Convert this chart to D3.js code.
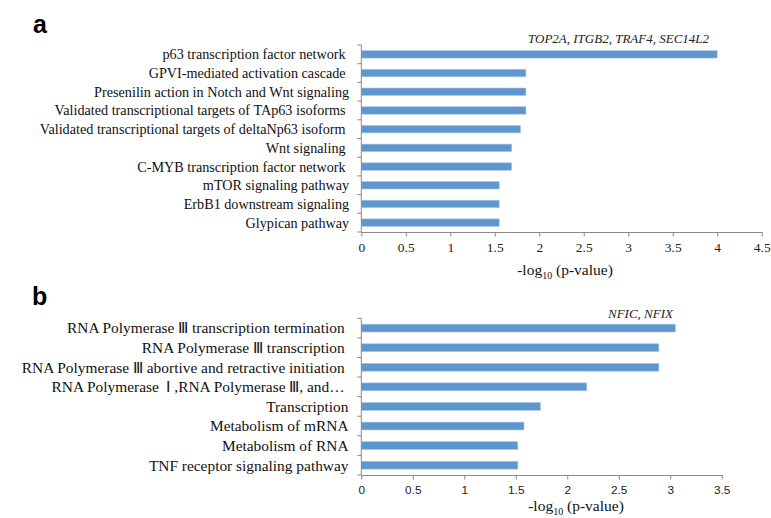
<!DOCTYPE html>
<html>
<head>
<meta charset="utf-8">
<script src="https://cdn.jsdelivr.net/npm/d3@7"></script>
<style>
  html, body { margin: 0; padding: 0; background: #fff; }
  svg { display: block; }
  .lbl { white-space: pre; }
</style>
</head>
<body>
<svg id="chart" width="771" height="518"></svg>
<script>
// ---- Data ----
const categoriesA = [
  "p63 transcription factor network ",
  "GPVI-mediated activation cascade ",
  "Presenilin action in Notch and Wnt signaling",
  "Validated transcriptional targets of TAp63 isoforms ",
  "Validated transcriptional targets of deltaNp63 isoform ",
  "Wnt signaling ",
  "C-MYB transcription factor network ",
  "mTOR signaling pathway",
  "ErbB1 downstream signaling",
  "Glypican pathway"
];
const valuesA = [4.0, 1.85, 1.85, 1.85, 1.79, 1.69, 1.69, 1.55, 1.55, 1.55];
const ticksA = [0, 0.5, 1, 1.5, 2, 2.5, 3, 3.5, 4, 4.5];
const noteA = "TOP2A, ITGB2, TRAF4, SEC14L2";

const categoriesB = [
  "RNA Polymerase Ⅲ transcription termination ",
  "RNA Polymerase Ⅲ transcription ",
  "RNA Polymerase Ⅲ abortive and retractive initiation ",
  "RNA Polymerase  Ⅰ ,RNA Polymerase Ⅲ, and… ",
  "Transcription",
  "Metabolism of mRNA",
  "Metabolism of RNA",
  "TNF receptor signaling pathway"
];
const valuesB = [3.05, 2.89, 2.89, 2.19, 1.74, 1.58, 1.52, 1.52];
const ticksB = [0, 0.5, 1, 1.5, 2, 2.5, 3, 3.5];
const noteB = "NFIC, NFIX";

const axisTitle = "-log";
const axisSub = "10";
const axisTitleRest = " (p-value)";

// ---- Drawing ----
const svg = d3.select("#chart");
const BAR = "#5e97cd";
const AX = "#8a8a8a";
const SERIF = "'Liberation Serif', 'Times New Roman', serif";
const SANS = "'Liberation Sans', Arial, sans-serif";

function panel(o) {
  const g = svg.append("g");
  const x = d3.scaleLinear().domain([0, o.max]).range([o.x0, o.x1]);
  const y = d3.scaleBand().domain(o.cats).range([o.y0, o.y1])
    .paddingInner(0.6).paddingOuter(0.3);
  const yb = d3.scaleBand().domain(o.cats).range([o.y0, o.y1]);

  // bars
  g.selectAll("rect.bar").data(o.vals).join("rect")
    .attr("class", "bar")
    .attr("x", x(0))
    .attr("y", (d, i) => y(o.cats[i]))
    .attr("width", d => x(d) - x(0))
    .attr("height", y.bandwidth())
    .attr("fill", BAR)
    .attr("stroke", "#a9c6e6")
    .attr("stroke-width", 0.6);

  // x axis
  const xa = g.append("g").attr("transform", `translate(0,${o.y1})`)
    .call(d3.axisBottom(x).tickValues(o.ticks).tickSize(4.5).tickSizeOuter(0)
      .tickFormat(d => String(d)));
  xa.select(".domain").attr("stroke", AX);
  xa.selectAll(".tick line").attr("stroke", AX);
  xa.selectAll(".tick text").attr("fill", "#222")
    .attr("font-family", o.tickFont).attr("font-size", o.tickSize)
    .attr("dy", null).attr("y", o.tickDy);

  // y axis line + ticks at category boundaries
  const bounds = o.cats.map(c => yb(c)).concat([o.y1]);
  g.append("line").attr("x1", x(0)).attr("x2", x(0))
    .attr("y1", o.y0).attr("y2", o.y1).attr("stroke", AX);
  g.selectAll("line.yt").data(bounds).join("line").attr("class", "yt")
    .attr("x1", x(0) - 4).attr("x2", x(0))
    .attr("y1", d => d).attr("y2", d => d).attr("stroke", AX);

  // category labels
  g.selectAll("text.lbl").data(o.cats).join("text").attr("class", "lbl")
    .attr("x", o.labelX)
    .attr("y", c => yb(c) + yb.bandwidth() / 2)
    .attr("dy", "0.35em")
    .attr("text-anchor", "end")
    .attr("font-family", SERIF).attr("font-size", o.labelSize)
    .attr("fill", "#111")
    .text(c => c);

  // note
  g.append("text").attr("x", o.noteX).attr("y", o.noteY)
    .attr("font-family", SERIF).attr("font-style", "italic")
    .attr("font-size", 13).attr("fill", "#222").text(o.note);

  // axis title
  const t = g.append("text").attr("x", o.titleX).attr("y", o.titleY)
    .attr("text-anchor", "middle")
    .attr("font-family", SERIF).attr("font-size", 15.5).attr("fill", "#111");
  t.append("tspan").text(axisTitle);
  t.append("tspan").attr("font-size", 10).attr("dy", 3.5).text(axisSub);
  t.append("tspan").attr("dy", -3.5).text(axisTitleRest);

  // panel letter
  svg.append("text").attr("x", o.letterX).attr("y", o.letterY)
    .attr("font-family", SANS).attr("font-weight", "bold")
    .attr("font-size", 25).attr("fill", "#000").text(o.letter);
}

panel({
  cats: categoriesA, vals: valuesA, ticks: ticksA, max: 4.5,
  x0: 361.3, x1: 761.7, y0: 45, y1: 232,
  tickFont: SERIF, tickSize: 13.5, tickDy: 20,
  labelX: 349.2, labelSize: 14.2,
  note: noteA, noteX: 528, noteY: 43,
  titleX: 565, titleY: 275,
  letter: "a", letterX: 33, letterY: 33
});

panel({
  cats: categoriesB, vals: valuesB, ticks: ticksB, max: 3.5,
  x0: 361.3, x1: 721.7, y0: 318.3, y1: 475,
  tickFont: SANS, tickSize: 11.8, tickDy: 19,
  labelX: 348.5, labelSize: 15.4,
  note: noteB, noteX: 608, noteY: 318,
  titleX: 576, titleY: 511,
  letter: "b", letterX: 32, letterY: 305
});
</script>
</body>
</html>
